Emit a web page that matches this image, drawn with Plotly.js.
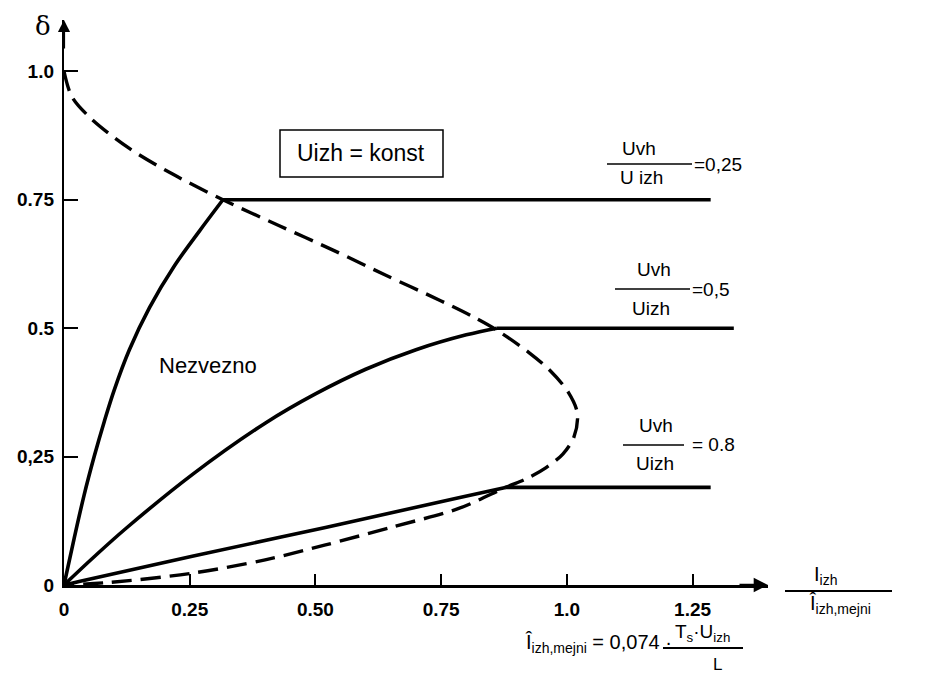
<!DOCTYPE html>
<html>
<head>
<meta charset="utf-8">
<script src="https://cdn.plot.ly/plotly-3.0.1.min.js"></script>
<style>html,body{margin:0;padding:0;background:#fff;}#chart{width:936px;height:678px;}</style>
</head>
<body>
<div id="chart"></div>
<script>
// ---- data ----
const xTickVals = [0, 0.25, 0.5, 0.75, 1.0, 1.25];
const xTickText = ['0', '0.25', '0.50', '0.75', '1.0', '1.25'];
const yTickVals = [0, 0.25, 0.5, 0.75, 1.0];
const yTickText = ['0', '0,25', '0.5', '0.75', '1.0'];

// Uvh/Uizh = 0.25 (discontinuous region curve, then constant level)
const curve025X = [0, 0.02, 0.04, 0.06, 0.08, 0.10, 0.13, 0.17, 0.22, 0.27, 0.316];
const curve025Y = [0, 0.09, 0.175, 0.25, 0.318, 0.38, 0.458, 0.54, 0.622, 0.69, 0.75];
const level025X = [0.316, 1.286];
const level025Y = [0.75, 0.75];

// Uvh/Uizh = 0.5
const curve05X = [0, 0.06, 0.123, 0.255, 0.4, 0.5, 0.6, 0.7, 0.8, 0.861];
const curve05Y = [0, 0.055, 0.11, 0.215, 0.315, 0.372, 0.42, 0.458, 0.487, 0.5];
const level05X = [0.861, 1.332];
const level05Y = [0.5, 0.5];

// Uvh/Uizh = 0.8
const curve08X = [0, 0.03, 0.255, 0.52, 0.785, 0.878];
const curve08Y = [0, 0.007, 0.056, 0.112, 0.17, 0.19];
const level08X = [0.878, 1.286];
const level08Y = [0.19, 0.19];

// boundary between continuous / discontinuous conduction (dashed)
const boundaryX = [0, 0.016, 0.054, 0.13, 0.216, 0.316, 0.427, 0.535, 0.64, 0.75, 0.81, 0.861, 0.924, 0.966, 1.003, 1.021, 1.014, 0.992, 0.958, 0.92, 0.878, 0.785, 0.653, 0.52, 0.40, 0.255, 0.09, 0];
const boundaryY = [1.0, 0.95, 0.908, 0.85, 0.80, 0.75, 0.70, 0.652, 0.603, 0.553, 0.524, 0.496, 0.453, 0.418, 0.375, 0.334, 0.288, 0.255, 0.228, 0.207, 0.19, 0.149, 0.113, 0.078, 0.049, 0.023, 0.005, 0];

// ---- layout helpers ----
const ML = 64, MR = 168, MT = 20, MB = 93, W = 936, H = 678;
const PW = W - ML - MR, PH = H - MT - MB, PB = H - MB;
function pp(px, py) { return { x: (px - ML) / PW, y: (PB - py) / PH }; }

const solid = { color: '#000', width: 3.6 };
const traces = [
  { x: boundaryX, y: boundaryY, mode: 'lines', line: { color: '#000', width: 3.4, dash: '20px,9px', shape: 'spline', smoothing: 0.9 } },
  { x: curve025X, y: curve025Y, mode: 'lines', line: Object.assign({ shape: 'spline', smoothing: 1 }, solid) },
  { x: level025X, y: level025Y, mode: 'lines', line: solid },
  { x: curve05X, y: curve05Y, mode: 'lines', line: Object.assign({ shape: 'spline', smoothing: 1 }, solid) },
  { x: level05X, y: level05Y, mode: 'lines', line: solid },
  { x: curve08X, y: curve08Y, mode: 'lines', line: Object.assign({ shape: 'spline', smoothing: 1 }, solid) },
  { x: level08X, y: level08Y, mode: 'lines', line: solid }
];

const FAM = 'Liberation Sans, Arial, sans-serif';
const txtFont = { family: FAM, size: 19, color: '#000' };
function label(px, py, text, size, anchor) {
  const p = pp(px, py);
  return { xref: 'paper', yref: 'paper', x: p.x, y: p.y, text: text, showarrow: false, xanchor: anchor || 'center', yanchor: 'middle',
           font: size ? { family: FAM, size: size, color: '#000' } : txtFont };
}
function bar(x0, x1, py, w) {
  const a = pp(x0, py), b = pp(x1, py);
  return { type: 'line', xref: 'paper', yref: 'paper', x0: a.x, x1: b.x, y0: a.y, y1: b.y, line: { color: '#000', width: w || 1.5 } };
}

const delta = label(43, 26, 'δ');
delta.font = { family: 'DejaVu Serif, serif', size: 26, color: '#000' };

const annotations = [
  delta,
  label(361, 153, 'Uizh = konst', 23),
  label(208, 365, 'Nezvezno', 22),
  // Uvh/Uizh = 0,25
  label(639, 148, 'Uvh'), label(641, 177, 'U izh'), label(692, 164, '=0,25', 19, 'left'),
  // Uvh/Uizh = 0,5
  label(654, 269, 'Uvh'), label(651, 308, 'Uizh'), label(690, 289, '=0,5', 19, 'left'),
  // Uvh/Uizh = 0.8
  label(656, 425, 'Uvh'), label(655, 463, 'Uizh'), label(690, 444, '= 0.8', 19, 'left'),
  // x axis quantity
  label(826, 575, 'I<sub>izh</sub>', 20),
  label(840, 604, 'Î<sub>izh,mejni</sub>', 20),
  // formula
  label(598, 643, 'Î<sub>izh,mejni</sub> = 0,074 ·', 20),
  label(702, 633, 'T<sub>s</sub>·U<sub>izh</sub>', 19),
  label(717, 664, 'L', 17),
  // axis arrows
  { xref: 'paper', yref: 'paper', x: 1, y: 0, ax: -30, ay: 0, text: '', showarrow: true, arrowhead: 2, arrowsize: 1.1, arrowwidth: 2.6, arrowcolor: '#000', standoff: 0 },
  { xref: 'paper', yref: 'paper', x: 0, y: 1, ax: 0, ay: 30, text: '', showarrow: true, arrowhead: 2, arrowsize: 1.1, arrowwidth: 2.2, arrowcolor: '#000', standoff: 0 }
];

const b0 = pp(280, 130), b1 = pp(443, 177);
const shapes = [
  { type: 'rect', xref: 'paper', yref: 'paper', x0: b0.x, y0: b0.y, x1: b1.x, y1: b1.y, line: { color: '#000', width: 1.5 } },
  bar(607, 692, 164), bar(615, 690, 289), bar(623, 684, 445),
  bar(785, 892, 591, 1.8), bar(663, 743, 648, 1.8)
];

const tickFont = { family: FAM, size: 19, weight: 'bold', color: '#000' };
const layout = {
  width: W, height: H,
  margin: { l: ML, r: MR, t: MT, b: MB, pad: 0 },
  paper_bgcolor: '#fff', plot_bgcolor: '#fff',
  showlegend: false,
  xaxis: {
    range: [0, 1.4], showgrid: false, zeroline: false, showline: true, linecolor: '#000', linewidth: 3,
    ticks: 'inside', ticklen: 11, tickwidth: 2, tickcolor: '#000',
    tickmode: 'array', tickvals: xTickVals, ticktext: xTickText, tickfont: tickFont, ticklabelstandoff: 5
  },
  yaxis: {
    range: [0, 1.1], showgrid: false, zeroline: false, showline: true, linecolor: '#000', linewidth: 2.2,
    ticks: 'inside', ticklen: 14, tickwidth: 2, tickcolor: '#000',
    tickmode: 'array', tickvals: yTickVals, ticktext: yTickText, tickfont: tickFont, ticklabelstandoff: 4
  },
  annotations: annotations,
  shapes: shapes
};

Plotly.newPlot('chart', traces, layout, { displayModeBar: false, staticPlot: true });
</script>
</body>
</html>
